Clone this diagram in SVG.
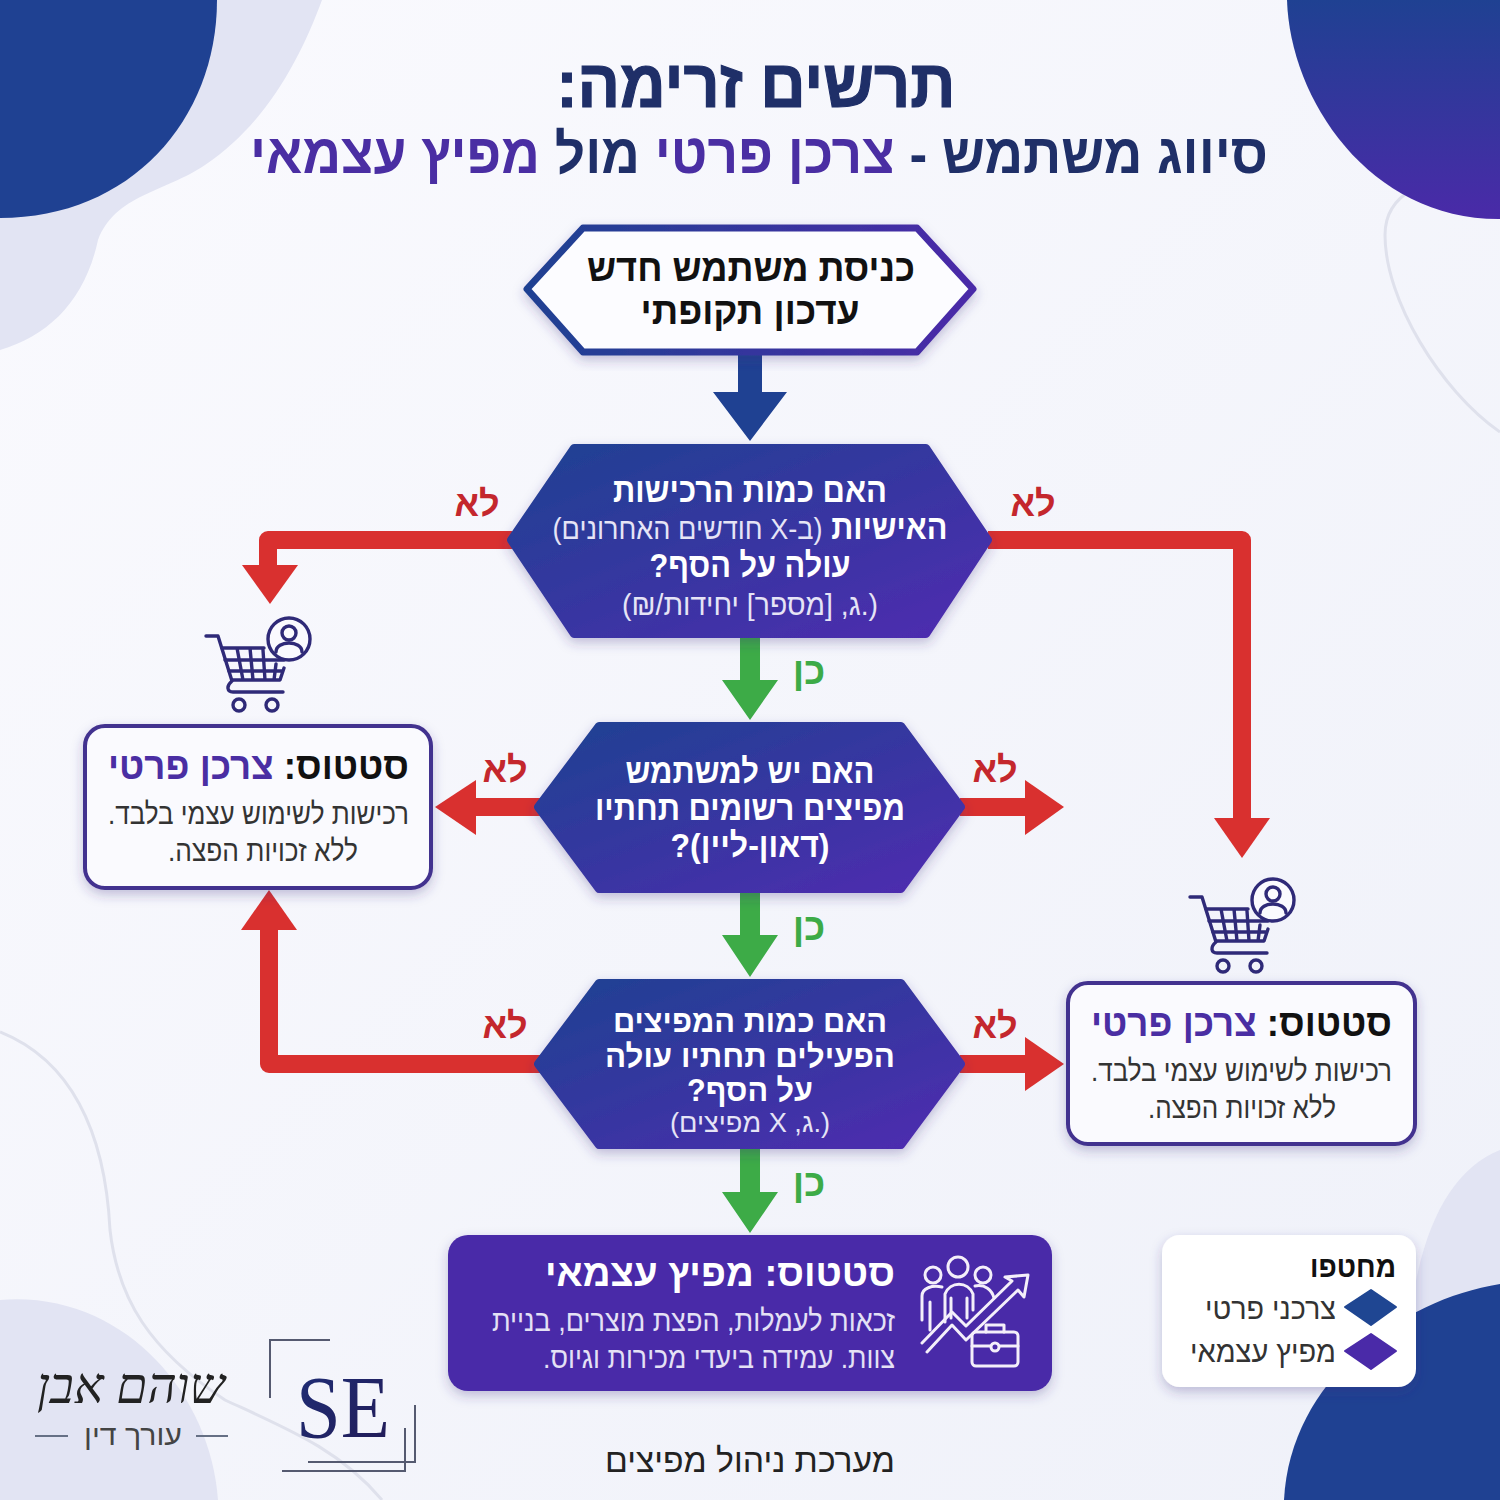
<svg xmlns="http://www.w3.org/2000/svg" width="1500" height="1500" viewBox="0 0 1500 1500">
<defs>
<linearGradient id="bg" x1="0" y1="0" x2="1" y2="1"><stop offset="0" stop-color="#fafafe"/><stop offset="1" stop-color="#eff1f9"/></linearGradient>
<linearGradient id="np" x1="0" y1="0" x2="1" y2="1"><stop offset="0" stop-color="#1f4192"/><stop offset="1" stop-color="#4f2bb0"/></linearGradient>
<linearGradient id="npv" x1="0" y1="0" x2="0" y2="1"><stop offset="0" stop-color="#1f4192"/><stop offset="1" stop-color="#4a2aa8"/></linearGradient>
<linearGradient id="edge" x1="0" y1="0" x2="1" y2="0"><stop offset="0" stop-color="#1f4192"/><stop offset="1" stop-color="#4a2aa8"/></linearGradient>
<linearGradient id="se" x1="0" y1="0" x2="1" y2="1"><stop offset="0" stop-color="#1f2f78"/><stop offset="1" stop-color="#221a55"/></linearGradient>
<filter id="sh" x="-10%" y="-10%" width="120%" height="125%"><feDropShadow dx="0" dy="5" stdDeviation="6" flood-color="#39307f" flood-opacity=".28"/></filter>
<g id="cart" fill="none" stroke="#2f2a78" stroke-width="3.4" stroke-linecap="round" stroke-linejoin="round">
<path d="M206 636H218L232 681C226 686 227 692 233 692H283"/>
<path d="M222 648H264M284 668L280 680H232M225 660H284M229 671H282M237 648L243 680M250 648L253 680M263 650L265 680M276 664L274 680"/>
<circle cx="239" cy="705" r="6"/><circle cx="272" cy="705" r="6"/>
<circle cx="289" cy="639" r="21" fill="#fafafe"/><circle cx="289" cy="633" r="7"/>
<path d="M276 652C276 640 302 640 302 652"/>
</g>
</defs>
<style>
text{font-family:"Liberation Sans",Arial,sans-serif;direction:rtl}
.b{font-weight:700;stroke:currentColor}
.c{text-anchor:middle}
.r{text-anchor:start}
.w{fill:#fff}
.q{font-size:34px;font-weight:700;fill:#fff;text-anchor:middle}
.s{font-size:30px;font-weight:400;fill:#e6e4f6}
.red{fill:#d9302f}
.redl{fill:none;stroke:#d9302f;stroke-width:18;stroke-linejoin:round}
.grn{fill:#3dab47}
.no{font-size:36px;font-weight:700;fill:#c4272d;text-anchor:middle}
.yes{font-size:38px;font-weight:700;fill:#3dab47;text-anchor:middle}
.hex{fill:url(#np);stroke:url(#np);stroke-width:8;stroke-linejoin:round;filter:url(#sh)}
.box{fill:#fafafe;stroke:#43318f;stroke-width:4;filter:url(#sh)}
.st{font-size:38px;font-weight:700;fill:#111}
.pu{fill:#4a2ea3}
.bd{font-size:29.5px;fill:#333}
.lg{font-size:30px;fill:#333}
.fr{fill:none;stroke:#555a70;stroke-width:2}
.blob{fill:#e2e4f3}
.ln{fill:none;stroke:#dfe1ec;stroke-width:3}
</style>
<rect width="1500" height="1500" fill="url(#bg)"/>
<g id="background">
<path class="blob" d="M200 0H322C300 60 265 125 205 165C165 192 115 195 98 240C85 300 50 335 0 350V200Z"/>
<path d="M0 0H217C217 120 130 218 0 218Z" fill="#1f4192"/>
<path class="ln" d="M1500 170C1420 175 1385 195 1385 235C1385 300 1440 390 1500 432"/>
<path d="M1287 0C1290 100 1370 220 1500 219V0Z" fill="url(#npv)"/>
<path class="ln" d="M0 1032C70 1060 105 1130 110 1230C118 1300 150 1350 225 1400C290 1430 340 1450 382 1500"/>
<path class="blob" d="M0 1300C120 1290 210 1390 218 1500H0Z"/>
<path class="blob" d="M1500 1150C1450 1170 1420 1230 1410 1320L1500 1320Z" fill="#dcdeef"/>
<path d="M1500 1284C1400 1300 1290 1380 1284 1500H1500Z" fill="#1f4192"/>
</g>
<g id="title">
<text class="c" style="font-weight:700;stroke:#1f2f68;stroke-width:1.2" x="756" y="107" font-size="67" fill="#1f2f68" textLength="399" lengthAdjust="spacingAndGlyphs">תרשים זרימה:</text>
<text class="c" style="font-weight:700" x="759" y="173" font-size="56" textLength="1018" lengthAdjust="spacingAndGlyphs"><tspan fill="#1f2f68">סיווג משתמש - </tspan><tspan fill="#4a2ea3">צרכן פרטי</tspan><tspan fill="#1f2f68"> מול </tspan><tspan fill="#4a2ea3">מפיץ עצמאי</tspan></text>
</g>
<g id="connectors">
<path fill="#1f4192" d="M738 353H762V392H787L750 441L713 392H738Z"/>
<path class="grn" d="M740 638H760V680H778L750 720L722 680H740Z"/>
<path class="grn" d="M740 893H760V935H778L750 977L722 935H740Z"/>
<path class="grn" d="M740 1149H760V1192H778L750 1233L722 1192H740Z"/>
<path class="redl" d="M512 540H268V570"/><path class="red" d="M242 565H298L270 604Z"/>
<path class="redl" d="M988 540H1242V822"/><path class="red" d="M1214 818H1270L1242 858Z"/>
<path class="redl" d="M540 807H470"/><path class="red" d="M476 780V835L435 807Z"/>
<path class="redl" d="M960 807H1030"/><path class="red" d="M1025 780V835L1064 807Z"/>
<path class="redl" d="M540 1064H269V925"/><path class="red" d="M241 930H297L269 890Z"/>
<path class="redl" d="M960 1064H1030"/><path class="red" d="M1025 1037V1091L1064 1064Z"/>
<text class="no" x="477" y="516">לא</text>
<text class="no" x="1033" y="516">לא</text>
<text class="no" x="505" y="782">לא</text>
<text class="no" x="995" y="782">לא</text>
<text class="no" x="505" y="1038">לא</text>
<text class="no" x="995" y="1038">לא</text>
<text class="yes" x="809" y="684">כן</text>
<text class="yes" x="809" y="940">כן</text>
<text class="yes" x="809" y="1196">כן</text>
</g>
<g id="node-start">
<path d="M527 289L583 228H917L973 289L917 352H583Z" fill="#fcfcff" stroke="url(#edge)" stroke-width="7" stroke-linejoin="round" filter="url(#sh)"/>
<text class="c" style="font-weight:700" x="751" y="281" font-size="38" fill="#111" textLength="328" lengthAdjust="spacingAndGlyphs">כניסת משתמש חדש</text>
<text class="c" style="font-weight:700" x="750" y="324" font-size="38" fill="#111" textLength="219" lengthAdjust="spacingAndGlyphs">עדכון תקופתי</text>
</g>
<g id="node-q1">
<path class="hex" d="M511 540L574 448H926L988 540L926 634H574Z"/>
<text class="q" x="750" y="502" textLength="274" lengthAdjust="spacingAndGlyphs">האם כמות הרכישות</text>
<text class="q" x="750" y="539" textLength="395" lengthAdjust="spacingAndGlyphs">האישיות <tspan class="s">(ב-X חודשים האחרונים)</tspan></text>
<text class="q" x="750" y="577" textLength="201" lengthAdjust="spacingAndGlyphs">עולה על הסף?</text>
<text class="c s" x="750" y="615" textLength="256" lengthAdjust="spacingAndGlyphs">(.ג, [מספר] יחידות/₪)</text>
</g>
<g id="node-q2">
<path class="hex" d="M538 807L599 726H901L961 807L901 889H599Z"/>
<text class="q" x="750" y="783" textLength="249" lengthAdjust="spacingAndGlyphs">האם יש למשתמש</text>
<text class="q" x="750" y="820" textLength="310" lengthAdjust="spacingAndGlyphs">מפיצים רשומים תחתיו</text>
<text class="q" x="750" y="857" textLength="159" lengthAdjust="spacingAndGlyphs">(דאון-ליין)?</text>
</g>
<g id="node-q3">
<path class="hex" d="M538 1064L599 983H901L961 1064L901 1145H599Z"/>
<text class="q" style="font-size:32px" x="750" y="1032" textLength="274" lengthAdjust="spacingAndGlyphs">האם כמות המפיצים</text>
<text class="q" style="font-size:32px" x="750" y="1067" textLength="290" lengthAdjust="spacingAndGlyphs">הפעילים תחתיו עולה</text>
<text class="q" style="font-size:32px" x="750" y="1101" textLength="126" lengthAdjust="spacingAndGlyphs">על הסף?</text>
<text class="c s" x="750" y="1132" style="font-size:27px" textLength="160" lengthAdjust="spacingAndGlyphs">(.ג, X מפיצים)</text>
</g>
<g id="node-private-left">
<rect class="box" x="85" y="726" width="346" height="162" rx="20"/>
<text class="st r" x="409" y="779" textLength="301" lengthAdjust="spacingAndGlyphs">סטטוס: <tspan class="pu">צרכן פרטי</tspan></text>
<text class="bd r" x="409" y="824" textLength="301" lengthAdjust="spacingAndGlyphs">רכישות לשימוש עצמי בלבד.</text>
<text class="bd r" x="358" y="861" textLength="190" lengthAdjust="spacingAndGlyphs">ללא זכויות הפצה.</text>
<use href="#cart"/>
</g>
<g id="node-private-right">
<rect class="box" x="1068" y="983" width="347" height="161" rx="20"/>
<text class="st r" x="1392" y="1036" textLength="301" lengthAdjust="spacingAndGlyphs">סטטוס: <tspan class="pu">צרכן פרטי</tspan></text>
<text class="bd r" x="1392" y="1081" textLength="301" lengthAdjust="spacingAndGlyphs">רכישות לשימוש עצמי בלבד.</text>
<text class="bd r" x="1336" y="1118" textLength="188" lengthAdjust="spacingAndGlyphs">ללא זכויות הפצה.</text>
<use href="#cart" x="984" y="261"/>
</g>
<g id="node-distributor">
<rect x="448" y="1235" width="604" height="156" rx="20" fill="#4a2aa8" filter="url(#sh)"/>
<text class="r w" style="font-weight:700" x="895" y="1286" font-size="38" textLength="350" lengthAdjust="spacingAndGlyphs">סטטוס: מפיץ עצמאי</text>
<text class="r" x="895" y="1331" font-size="29.5" fill="#e4e1f5" textLength="403" lengthAdjust="spacingAndGlyphs">זכאות לעמלות, הפצת מוצרים, בניית</text>
<text class="r" x="895" y="1368" font-size="29.5" fill="#e4e1f5" textLength="352" lengthAdjust="spacingAndGlyphs">צוות. עמידה ביעדי מכירות וגיוס.</text>
<g fill="none" stroke="#f4effa" stroke-width="3" stroke-linecap="round" stroke-linejoin="round">
<circle cx="933" cy="1275" r="8"/><circle cx="958" cy="1267" r="10"/><circle cx="983" cy="1275" r="8"/>
<path d="M930 1330V1302M922 1320V1296C922 1288 932 1285 942 1287M945 1322V1294C950 1281 968 1281 973 1294V1310M975 1286C985 1284 992 1290 994 1298M951 1298V1318M967 1298V1318"/>
<path d="M922 1343L952 1312L966 1326L1012 1281L1005 1277L1028 1275L1024 1297L1018 1290L966 1340L952 1325L927 1352"/>
<rect x="972" y="1332" width="46" height="34" rx="4"/>
<path d="M986 1332V1325H1004V1332M972 1346H990M1000 1346H1018"/><circle cx="995" cy="1347" r="4"/>
</g>
</g>
<g id="legend">
<rect x="1162" y="1235" width="254" height="152" rx="18" fill="#fff" filter="url(#sh)"/>
<text class="r" style="font-weight:700" x="1396" y="1277" font-size="30" fill="#111" textLength="86" lengthAdjust="spacingAndGlyphs">מחטפו</text>
<path d="M1345 1307L1371 1290L1396 1307L1371 1325Z" fill="#1f4692" stroke="#1f4692" stroke-width="2" stroke-linejoin="round"/>
<text class="lg r" x="1336" y="1319" textLength="131" lengthAdjust="spacingAndGlyphs">צרכני פרטי</text>
<path d="M1345 1351L1371 1334L1396 1351L1371 1369Z" fill="#4a2aa8" stroke="#4a2aa8" stroke-width="2" stroke-linejoin="round"/>
<text class="lg r" x="1336" y="1362" textLength="146" lengthAdjust="spacingAndGlyphs">מפיץ עצמאי</text>
</g>
<g id="brand">
<text class="c" x="131" y="1403" font-size="50" font-style="italic" fill="#222" style="font-family:'Liberation Serif',serif">שוהם אבן</text>
<text class="c" x="133" y="1445" font-size="29" fill="#444" textLength="98" lengthAdjust="spacingAndGlyphs">עורך דין</text>
<path d="M35 1436H68M196 1436H228" fill="none" stroke="#667085" stroke-width="2"/>
<path class="fr" d="M270 1398V1340H330M308 1462H415V1405M282 1471H405V1428"/>
<text x="296" y="1437" font-size="88" fill="url(#se)" textLength="94" lengthAdjust="spacingAndGlyphs" style="font-family:'Liberation Serif',serif;direction:ltr">SE</text>
<text class="c" x="750" y="1472" font-size="33" fill="#222" textLength="290" lengthAdjust="spacingAndGlyphs">מערכת ניהול מפיצים</text>
</g>
</svg>
